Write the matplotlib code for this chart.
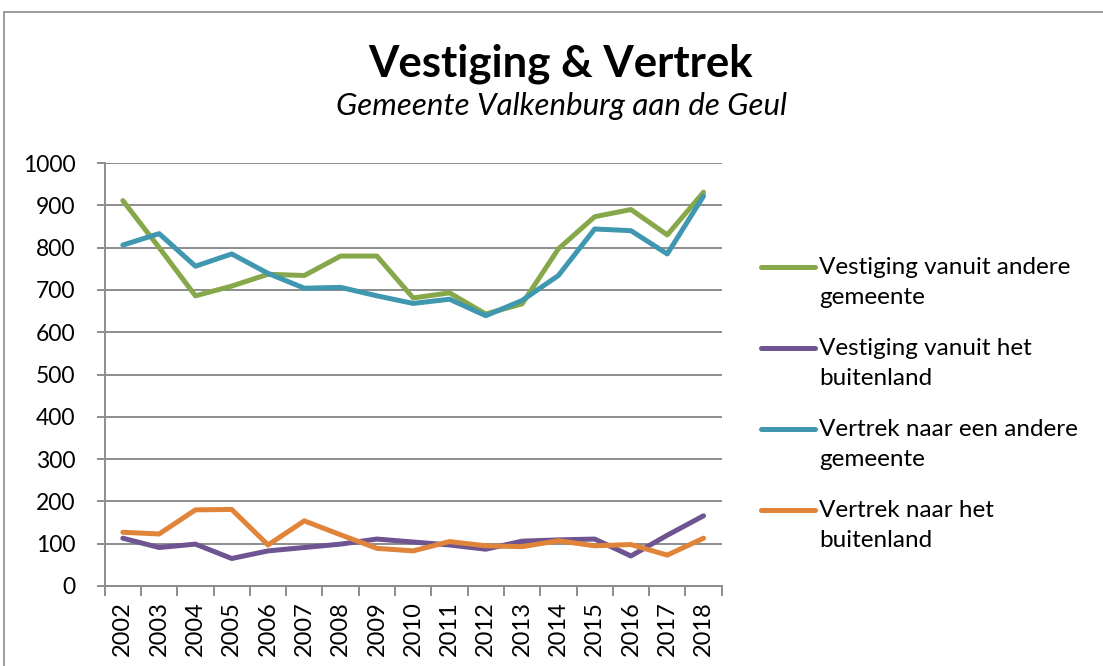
import matplotlib
matplotlib.use("Agg")
import matplotlib.pyplot as plt
from matplotlib.lines import Line2D
from matplotlib.patches import Rectangle

plt.rcParams['font.family'] = ['Lato', 'DejaVu Sans']

# --- Data ---
YEARS = [str(y) for y in range(2002, 2019)]

vestiging_gemeente = [911, 800, 686, 709, 737, 734, 780, 780, 681,
                      693, 643, 667, 797, 873, 890, 830, 931]
vestiging_buitenland = [113, 91, 99, 65, 83, 91, 99, 111, 104,
                        97, 87, 106, 109, 111, 71, 120, 166]
vertrek_gemeente = [806, 833, 756, 785, 739, 704, 706, 686, 668,
                    678, 639, 675, 734, 844, 840, 785, 922]
vertrek_buitenland = [127, 123, 180, 181, 97, 154, 121, 89, 83,
                      105, 95, 93, 107, 95, 98, 73, 113]

SERIES = [
    ("Vestiging vanuit andere\ngemeente", vestiging_gemeente, "#87A84A"),
    ("Vestiging vanuit het\nbuitenland", vestiging_buitenland, "#6E5490"),
    ("Vertrek naar een andere\ngemeente", vertrek_gemeente, "#3F97B0"),
    ("Vertrek naar het\nbuitenland", vertrek_buitenland, "#E0843A"),
]

GRID = "#8C8C8C"
W, H = 1103, 666

fig = plt.figure(figsize=(W / 100, H / 100), dpi=100)

# outer chart border
fig.add_artist(Rectangle((4 / W, -0.05), 1.1, 1 - 12 / H + 0.05,
                         transform=fig.transFigure, fill=False,
                         edgecolor="#8A8A8A", linewidth=1.2))

ax = fig.add_axes([104.7 / W, 1 - 586 / H, 617 / W, 423 / H])

x = list(range(len(YEARS)))
for label, vals, color in SERIES:
    ax.plot(x, vals, color=color, linewidth=3.6, label=label,
            solid_capstyle="round", solid_joinstyle="round")

ax.set_xlim(-0.5, len(YEARS) - 0.5)
ax.set_ylim(0, 1000)
ax.set_yticks(range(0, 1001, 100))
ax.set_xticks(x)
ax.set_xticklabels(YEARS, rotation=90)
ax.set_xticks([i - 0.5 for i in range(len(YEARS) + 1)], minor=True)

ax.grid(axis="y", color=GRID, linewidth=1.4)
ax.set_axisbelow(True)
for side in ["top", "right"]:
    ax.spines[side].set_visible(False)
for side in ["left", "bottom"]:
    ax.spines[side].set_color(GRID)
    ax.spines[side].set_linewidth(1.4)

ax.tick_params(axis="y", length=6, width=1.4, color=GRID, labelsize=16.5, pad=15)
ax.tick_params(axis="x", which="major", length=0, labelsize=17, pad=11)
ax.tick_params(axis="x", which="minor", length=7, width=1.4, color=GRID)

fig.text(561 / W, 1 - 77 / H, "Vestiging & Vertrek", ha="center",
         va="baseline", fontsize=31.5, fontweight="bold")
fig.text(561 / W, 1 - 115 / H, "Gemeente Valkenburg aan de Geul",
         ha="center", va="baseline", fontsize=22.5, style="italic")

# legend, handle lined up with the first text line of each entry
leg_y = [267, 348, 429, 510]
for (label, vals, color), yy in zip(SERIES, leg_y):
    fig.add_artist(Line2D([761 / W, 815 / W], [1 - yy / H, 1 - yy / H],
                          transform=fig.transFigure, color=color,
                          linewidth=3.6, solid_capstyle="round"))
    fig.text(819 / W, 1 - (yy - 10) / H, label, ha="left", va="top",
             fontsize=17.5, linespacing=1.55)

fig.savefig("out.png", dpi=100)
